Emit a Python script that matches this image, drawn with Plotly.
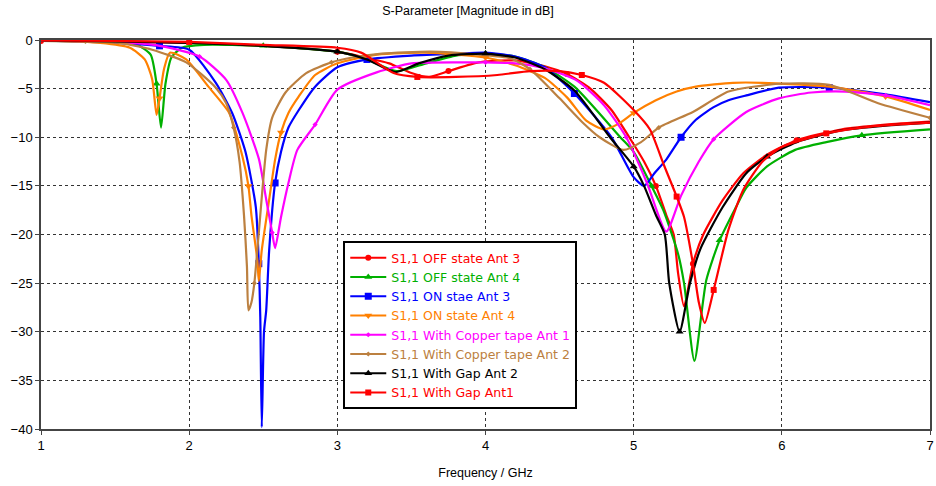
import plotly.graph_objects as go

# ---------------- data ----------------
f_off3 = [1.0, 1.5, 2.0, 2.5, 2.8, 3.0, 3.16, 3.35, 3.5, 3.62, 3.75, 3.9, 4.0, 4.2, 4.4, 4.55, 4.7, 4.85, 4.97,
          5.07, 5.15, 5.22, 5.27, 5.3, 5.34, 5.4, 5.47, 5.6, 5.74, 5.9, 6.1, 6.4, 6.7, 7.0]
s_off3 = [-0.1, -0.15, -0.3, -0.6, -0.9, -1.2, -1.7, -2.4, -3.4, -3.8, -3.2, -2.5, -2.2, -2.1, -2.7, -3.5, -4.9, -7.2, -10,
          -12.5, -15, -18, -20, -24, -27.4, -23, -20, -16.5, -13.7, -11.8, -10.3, -9.2, -8.7, -8.4]

f_off4 = [1.0, 1.5, 1.65, 1.74, 1.78, 1.81, 1.84, 1.88, 1.95, 2.1, 2.5, 3.0, 3.2, 3.4, 3.6, 3.8, 4.0, 4.2, 4.4, 4.6,
          4.91, 5.0, 5.12, 5.2, 5.3, 5.34, 5.41, 5.49, 5.58, 5.69, 5.76, 5.9, 6.09, 6.3, 6.54, 7.0]
s_off4 = [-0.1, -0.2, -0.5, -1.5, -4.5, -9.0, -4.5, -1.8, -0.8, -0.5, -0.6, -1.2, -2.0, -3.2, -2.4, -1.6, -1.4, -1.7, -2.8, -4.8,
          -10, -11.5, -15, -17.5, -22, -25, -33, -24.7, -20.6, -17.2, -15.2, -13, -11.3, -10.5, -9.8, -9.2]

f_on3 = [1.0, 1.5, 1.8, 2.0, 2.18, 2.29, 2.38, 2.45, 2.47, 2.48, 2.49, 2.505, 2.52, 2.54, 2.58, 2.62, 2.67, 2.74, 2.85, 3.0,
         3.2, 3.5, 3.8, 4.0, 4.2, 4.4, 4.6, 4.85, 5.0, 5.07, 5.14, 5.22, 5.32, 5.42, 5.54, 5.64, 5.76, 5.98, 6.32, 6.7, 7.0]
s_on3 = [-0.05, -0.3, -0.6, -1.0, -4.4, -7.5, -11.5, -17.2, -23, -28.5, -39.8, -30, -27.8, -21.6, -14.7, -11.5, -9.0, -7.2, -4.8, -2.8,
         -2.0, -1.6, -1.4, -1.3, -1.7, -2.8, -5.5, -10, -14.1, -15, -13.7, -12.3, -10, -8.2, -6.9, -6.2, -5.7, -4.9, -4.9, -5.6, -6.4]

f_on4 = [1.0, 1.4, 1.6, 1.7, 1.75, 1.78, 1.8, 1.83, 1.87, 1.98, 2.13, 2.27, 2.36, 2.4, 2.42, 2.46, 2.47, 2.49, 2.54, 2.58,
         2.62, 2.67, 2.74, 2.85, 3.0, 3.27, 3.6, 4.0, 4.2, 4.4, 4.55, 4.68, 4.8, 4.9, 5.0, 5.15, 5.29, 5.42, 5.67, 5.87,
         6.32, 6.7, 7.0]
s_on4 = [-0.05, -0.3, -0.8, -2.0, -4.0, -7.7, -6.0, -3.0, -1.3, -2.0, -4.8, -7.5, -12, -15, -18, -22.6, -24.8, -21.6, -16.4, -12.3,
         -9.5, -7.5, -5.8, -3.6, -2.4, -1.5, -1.3, -1.8, -2.6, -3.9, -5.9, -8.3, -9.2, -8.6, -7.5, -6.2, -5.3, -4.8, -4.4, -4.4,
         -4.8, -5.8, -7.2]

f_cu1 = [1.0, 1.5, 1.8, 2.07, 2.25, 2.36, 2.47, 2.52, 2.56, 2.58, 2.62, 2.67, 2.73, 2.85, 3.0, 3.27, 3.5, 3.83, 4.0, 4.2,
         4.4, 4.62, 4.8, 4.95, 5.09, 5.22, 5.32, 5.44, 5.54, 5.76, 5.98, 6.2, 6.43, 6.7, 7.0]
s_cu1 = [-0.05, -0.2, -0.6, -1.7, -4.1, -7.5, -12.2, -16.4, -19.8, -21.4, -18.2, -14.7, -11.3, -8.7, -5.1, -3.3, -2.4, -2.3, -2.3, -2.4,
         -2.9, -4.2, -6.7, -10, -14.7, -19.7, -16, -12.5, -10.2, -7.4, -6.0, -5.4, -5.3, -5.7, -6.7]

f_cu2 = [1.0, 1.3, 1.53, 1.75, 1.98, 2.18, 2.25, 2.3, 2.34, 2.37, 2.39, 2.40, 2.42, 2.44, 2.47, 2.52, 2.56, 2.65, 2.79, 2.96,
         3.1, 3.3, 3.63, 3.95, 4.17, 4.3, 4.5, 4.65, 4.77, 4.93, 5.05, 5.17, 5.4, 5.64, 5.98, 6.32, 6.65, 7.0]
s_cu2 = [-0.05, -0.15, -0.3, -1.0, -2.3, -4.9, -6.5, -9.0, -12.5, -18, -23.3, -27.8, -27, -25, -19.8, -11.3, -8.0, -5.4, -3.4, -2.3,
         -1.8, -1.4, -1.2, -1.5, -1.9, -3.0, -6.0, -8.4, -10, -11.3, -10.5, -9.0, -7.4, -5.3, -4.5, -4.6, -6.5, -8.0]

f_gap2 = [1.0, 1.5, 2.0, 2.5, 3.0, 3.2, 3.39, 3.55, 3.75, 4.0, 4.2, 4.4, 4.6, 4.84, 5.0, 5.07, 5.15, 5.21, 5.24, 5.31,
          5.38, 5.45, 5.6, 5.76, 5.9, 6.1, 6.4, 6.7, 7.0]
s_gap2 = [-0.05, -0.15, -0.3, -0.6, -1.2, -2.0, -3.3, -2.4, -1.6, -1.4, -1.8, -3.0, -5.2, -10, -13, -15, -18, -20, -25, -30,
          -25, -21.5, -17.2, -13.7, -12, -10.5, -9.3, -8.8, -8.5]

f_gap1 = [1.0, 1.5, 2.0, 2.5, 3.0, 3.16, 3.38, 3.54, 3.8, 4.08, 4.3, 4.5, 4.65, 4.8, 5.0, 5.11, 5.2, 5.29, 5.34, 5.4,
          5.44, 5.48, 5.54, 5.64, 5.74, 5.87, 6.0, 6.3, 6.6, 7.0]
s_gap1 = [-0.05, -0.1, -0.2, -0.5, -0.8, -1.3, -3.4, -3.8, -3.8, -3.6, -3.2, -3.2, -3.6, -4.4, -7.2, -9.2, -12.7, -16.1, -18.2, -23,
          -27, -29.1, -25.7, -19.5, -15.4, -12.5, -11, -9.6, -8.9, -8.5]

names = ["S1,1 OFF state Ant 3", "S1,1 OFF state Ant 4", "S1,1 ON stae Ant 3", "S1,1 ON state Ant 4",
         "S1,1 With Copper tape Ant 1", "S1,1 With Copper tape Ant 2", "S1,1 With Gap Ant 2", "S1,1 With Gap Ant1"]
freqs = [f_off3, f_off4, f_on3, f_on4, f_cu1, f_cu2, f_gap2, f_gap1]
vals = [s_off3, s_off4, s_on3, s_on4, s_cu1, s_cu2, s_gap2, s_gap1]
colors = ["#FF0000", "#00B000", "#0000FF", "#FF8000", "#FF00FF", "#BC8040", "#000000", "#FF0000"]
symbols = ["circle", "triangle-up", "square", "triangle-down", "diamond", "diamond", "triangle-up", "square"]
msizes = [6, 7, 7, 7, 4, 4, 7, 6]

fig = go.Figure()
for n, x, y, c, s, ms in zip(names, freqs, vals, colors, symbols, msizes):
    fig.add_trace(go.Scatter(
        x=x, y=y, mode="lines+markers",
        name='<span style="color:%s">%s</span>' % (c, n),
        line=dict(color=c, width=2.2, shape="spline", smoothing=0.6),
        marker=dict(color=c, symbol=s, size=ms, maxdisplayed=7),
    ))

FONT = "Liberation Sans"
LFONT = "DejaVu Sans"
fig.update_layout(
    width=936, height=486,
    margin=dict(l=41, r=6, t=40, b=57),
    paper_bgcolor="white", plot_bgcolor="white",
    font=dict(family=FONT, size=12, color="black"),
    title=dict(text="S-Parameter [Magnitude in dB]", x=0.5, xanchor="center", y=0.988, yanchor="top",
               font=dict(family=FONT, size=12.5, color="black")),
    showlegend=True,
    legend=dict(x=0.34, y=0.483, xanchor="left", yanchor="top",
                bgcolor="white", bordercolor="black", borderwidth=2,
                font=dict(family=LFONT, size=12.5), itemwidth=36, tracegroupgap=0),
)
fig.update_xaxes(range=[1, 7], tickvals=[1, 2, 3, 4, 5, 6, 7], showgrid=True, gridcolor="#333",
                 griddash="3px,3px", gridwidth=1, showline=True, linecolor="#444", linewidth=1.5, mirror=True,
                 ticks="outside", ticklen=4, tickcolor="#444", zeroline=False, ticklabeloverflow="allow",
                 tickfont=dict(size=13), automargin=False,
                 title=dict(text="Frequency / GHz", standoff=16, font=dict(family=FONT, size=12.5)))
fig.update_yaxes(range=[-40, 0], tickvals=[0, -5, -10, -15, -20, -25, -30, -35, -40], showgrid=True, gridcolor="#333",
                 griddash="3px,3px", gridwidth=1, showline=True, linecolor="#444", linewidth=1.5, mirror=True,
                 ticks="outside", ticklen=4, tickcolor="#444", zeroline=False, tickfont=dict(size=13),
                 automargin=False)

fig.write_html("out.html")
